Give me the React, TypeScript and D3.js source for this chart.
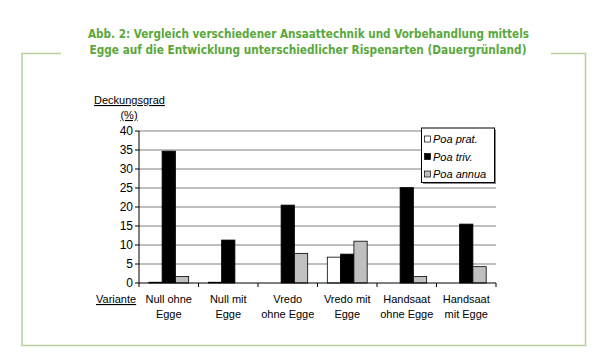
import React from "react";
import * as d3 from "d3";

const categories: string[][] = [
  ["Null ohne", "Egge"],
  ["Null mit", "Egge"],
  ["Vredo", "ohne Egge"],
  ["Vredo mit", "Egge"],
  ["Handsaat", "ohne Egge"],
  ["Handsaat", "mit Egge"],
];
const seriesNames = ["Poa prat.", "Poa triv.", "Poa annua"];
const poaPrat = [0.2, 0.2, 0, 6.8, 0, 0];
const poaTriv = [34.7, 11.3, 20.5, 7.6, 25.1, 15.5];
const poaAnnua = [1.7, 0, 7.8, 11.0, 1.7, 4.3];
const yTicks = [0, 5, 10, 15, 20, 25, 30, 35, 40];
const seriesFill = ["#ffffff", "#000000", "#c0c0c0"];
const titleLines = [
  "Abb. 2: Vergleich verschiedener Ansaattechnik und Vorbehandlung mittels",
  "Egge auf die Entwicklung unterschiedlicher Rispenarten (Dauergrünland)",
];

export default function App() {
  const W = 600, H = 359;
  const left = 139, right = 496, top = 131, bottom = 283;
  const x = d3.scaleBand<number>().domain(d3.range(categories.length)).range([left, right]).paddingInner(0).paddingOuter(0);
  const y = d3.scaleLinear().domain([0, 40]).range([bottom, top]);
  const inner = d3.scaleBand<number>().domain([0, 1, 2]).range([0, x.bandwidth() * 0.67]);
  const groupOffset = (x.bandwidth() - x.bandwidth() * 0.67) / 2;
  const series = [poaPrat, poaTriv, poaAnnua];
  const green = "#b7d19c";
  const font = "'Liberation Sans', Arial, sans-serif";

  return (
    <svg width={W} height={H} style={{ position: "absolute", left: 0, top: 0, background: "#fff" }}>
      {/* frame */}
      <polyline points={`61,53.5 22,53.5 22,345.5 585.5,345.5 585.5,53.5 551,53.5`} fill="none" stroke={green} strokeWidth={1.5} />
      {/* title */}
      {titleLines.map((t, i) => (
        <text key={i} x={i === 0 ? 88 : 89.5} y={i === 0 ? 37.5 : 53.5} fill="#5aa83c" fontFamily="'DejaVu Sans Condensed', 'DejaVu Sans', sans-serif" fontWeight="bold" fontSize={12}
          textLength={i === 0 ? 441 : 437} lengthAdjust="spacingAndGlyphs">{t}</text>
      ))}
      {/* gridlines */}
      {yTicks.filter(t => t > 0).map(t => (
        <line key={t} x1={left} x2={right} y1={y(t)} y2={y(t)} stroke="#7f7f7f" strokeWidth={1} />
      ))}
      {/* bars */}
      {series.map((vals, s) =>
        vals.map((v, i) => (
          <rect key={`${s}-${i}`} x={(x(i) as number) + groupOffset + (inner(s) as number)} y={y(v)} width={inner.bandwidth()} height={Math.max(0, y(0) - y(v))}
            fill={seriesFill[s]} stroke="#000" strokeWidth={v > 0 ? 0.8 : 0} />
        ))
      )}
      {/* axes */}
      <line x1={left} x2={left} y1={top} y2={bottom} stroke="#000" />
      <line x1={left} x2={right} y1={bottom} y2={bottom} stroke="#000" />
      {yTicks.map(t => (
        <g key={t}>
          <line x1={left - 4} x2={left} y1={y(t)} y2={y(t)} stroke="#000" />
          <text x={133} y={y(t) + 4} textAnchor="end" fontFamily={font} fontSize={12} fill="#000">{t}</text>
        </g>
      ))}
      {d3.range(categories.length + 1).map(i => {
        const xx = left + i * x.step();
        return <line key={i} x1={xx} x2={xx} y1={bottom} y2={bottom + 4} stroke="#000" />;
      })}
      {categories.map((c, i) => (
        <text key={i} x={(x(i) as number) + x.bandwidth() / 2} textAnchor="middle" fontFamily={font} fontSize={11} fill="#000">
          <tspan x={(x(i) as number) + x.bandwidth() / 2} y={303}>{c[0]}</tspan>
          <tspan x={(x(i) as number) + x.bandwidth() / 2} y={318}>{c[1]}</tspan>
        </text>
      ))}
      {/* axis titles */}
      <text x={94} y={104} fontFamily={font} fontSize={11} textDecoration="underline" fill="#000">Deckungsgrad</text>
      <text x={129} y={119} textAnchor="middle" fontFamily={font} fontSize={11} textDecoration="underline" fill="#000">(%)</text>
      <text x={96} y={303} fontFamily={font} fontSize={11} textDecoration="underline" fill="#000">Variante</text>
      {/* legend */}
      <rect x={423} y={129.5} width={73} height={54.5} fill="#888" />
      <rect x={421.5} y={128} width={73} height={54.5} fill="#fff" stroke="#000" strokeWidth={1} />
      {seriesNames.map((n, i) => (
        <g key={n}>
          <rect x={424.5} y={136 + i * 17.5} width={6} height={6} fill={seriesFill[i]} stroke="#000" strokeWidth={0.7} />
          <text x={433} y={143 + i * 17.5} fontFamily={font} fontStyle="italic" fontSize={11} fill="#000">{n}</text>
        </g>
      ))}
    </svg>
  );
}
